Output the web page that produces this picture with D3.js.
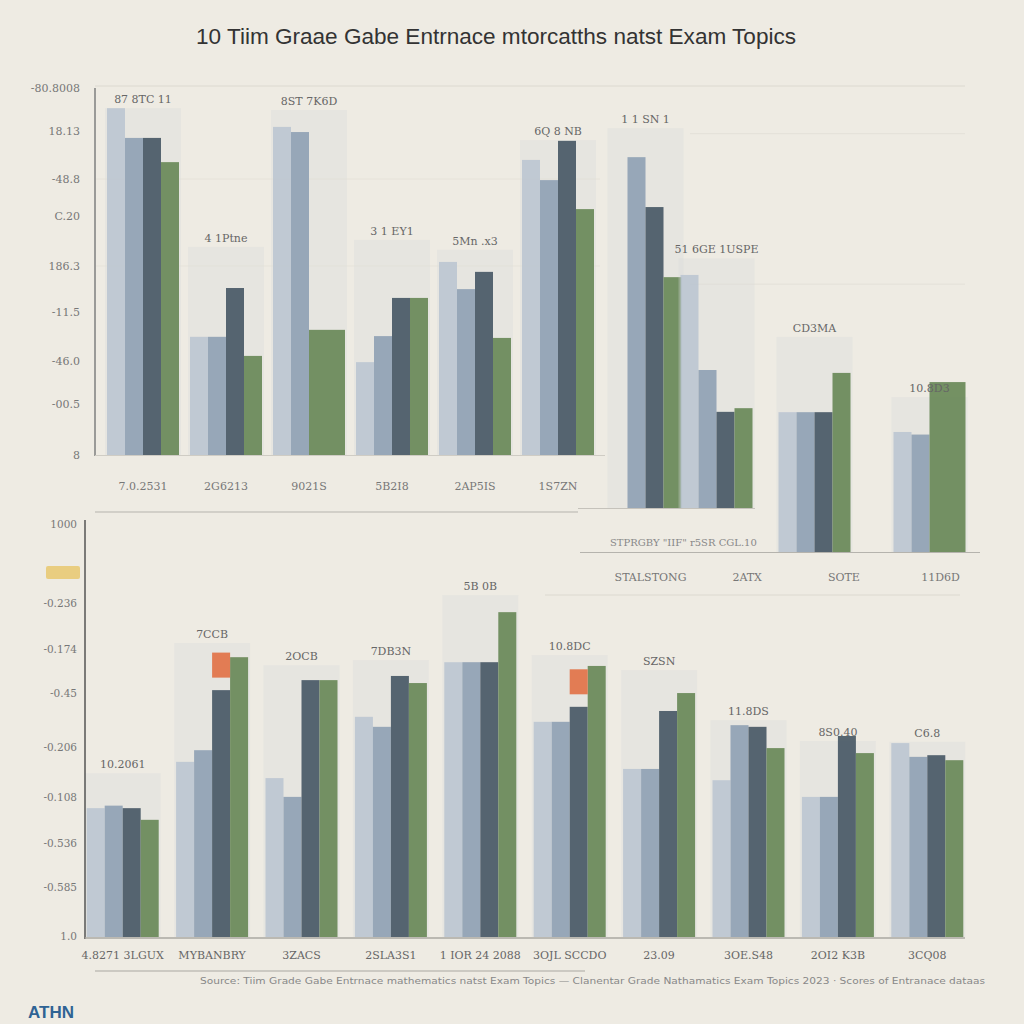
<!DOCTYPE html>
<html><head><meta charset="utf-8">
<script src="https://cdn.jsdelivr.net/npm/d3@7"></script>
<style>body{margin:0;background:#eeebe3}svg{display:block}</style></head>
<body><svg id="c" width="1024" height="1024"></svg>
<script>
// ---------- DATA ----------
const title = "10 Tiim Graae Gabe Entrnace mtorcatths natst Exam Topics";
const topCats = ["7.0.2531","2G6213","9021S","5B2I8","2AP5IS","1S7ZN","STALSTONG","2ATX","SOTE","11D6D"];
const topA  = [94.5, 32.2, 89.4, 25.3, 52.6, 80.4,  0.0, 63.5, 38.1, 32.7];
const topB  = [86.4, 32.2, 88.0, 32.4, 45.2, 74.9, 95.6, 37.6, 38.1, 32.0];
const topC  = [86.4, 45.5,  0.0, 42.8, 49.9, 85.6, 82.0, 26.2, 38.1,  0.0];
const topD  = [79.8, 27.0, 34.1, 42.8, 31.9, 67.0, 62.9, 27.2, 48.8, 46.3];
const topBg = [94.5, 56.7, 94.0, 58.6, 55.9, 85.8, 103.5, 68.0, 58.6, 42.2];
const topLabels = ["87 8TC 11","4 1Ptne","8ST 7K6D","3 1 EY1","5Mn .x3","6Q 8 NB","1 1 SN 1","51 6GE 1USPE","CD3MA","10.8D3"];
const topTickVals = [100, 88.3, 75.2, 65.1, 51.5, 39.0, 25.6, 13.9, 0];
const topTickText = ["-80.8008","18.13","-48.8","C.20","186.3","-11.5","-46.0","-00.5","8"];

const botCats = ["4.8271 3LGUX","MYBANBRY","3ZACS","2SLA3S1","1 IOR 24 2088","3OJL SCCDO","23.09","3OE.S48","2OI2 K3B","3CQ08"];
const botA  = [30.9, 42.0, 38.1, 52.8, 65.9, 51.6, 40.3, 37.6, 33.6, 46.5];
const botB  = [31.5, 44.8, 33.6, 50.4, 65.9, 51.6, 40.3, 50.8, 33.6, 43.2];
const botC  = [30.9, 59.2, 61.6, 62.6, 65.9, 55.2, 54.2, 50.4, 48.2, 43.6];
const botD  = [28.1, 67.1, 61.6, 60.9, 77.9, 65.0, 58.5, 45.3, 44.1, 42.4];
const botBg = [39.3, 70.5, 65.2, 66.4, 82.0, 67.6, 64.0, 52.0, 47.0, 46.8];
const botAccent = [0, 6.0, 0, 0, 0, 6.0, 0, 0, 0, 0];
const botLabels = ["10.2061","7CCB","2OCB","7DB3N","5B 0B","10.8DC","SZSN","11.8DS","8S0.40","C6.8"];
const botTickVals = [99, 87.3, 80.1, 69.1, 58.5, 45.6, 33.6, 22.5, 12.0, 0.2];
const botTickText = ["1000","","-0.236","-0.174","-0.45","-0.206","-0.108","-0.536","-0.585","1.0"];
const footerText = "Source: Tiim Grade Gabe Entrnace mathematics natst Exam Topics — Clanentar Grade Nathamatics Exam Topics 2023 · Scores of Entranace dataas";

// ---------- STYLE ----------
const colA = "#b7c2cf", colB = "#94a4b6", colC = "#4f5f6b", colD = "#6e8c5e", colBg = "rgba(214,217,218,0.32)";
const svg = d3.select("#c");
svg.append("rect").attr("width",1024).attr("height",1024).attr("fill","#eeebe3");

svg.append("text").attr("x",496).attr("y",44).attr("text-anchor","middle")
  .attr("font-family","Liberation Sans, Arial, sans-serif").attr("font-size",22).attr("fill","#333")
  .attr("textLength",600).attr("lengthAdjust","spacingAndGlyphs").text(title);

const series = [topA, topB, topC, topD];
const colors = [colA, colB, colC, colD];
const bw = 18;

function drawGroups(g, idxs, cats, xs, y, vals, bg, labels, accent){
  idxs.forEach(i=>{
    const cx = xs(cats[i]) + xs.bandwidth()/2;
    const base = y(0);
    g.append("rect").attr("x",cx-2*bw-2).attr("width",4*bw+4)
      .attr("y",y(bg[i])).attr("height",base-y(bg[i])).attr("fill",colBg);
    vals.forEach((s,k)=>{
      if(!s[i]) return;
      let x = cx-2*bw+k*bw, w = bw;
      if(k===3 && !vals[2][i]) { x -= bw; w = 2*bw; }
      g.append("rect").attr("x",x).attr("width",w).attr("y",y(s[i]))
        .attr("height",base-y(s[i])).attr("fill",colors[k]).attr("opacity",k===0?0.8:0.96);
    });
    if(accent && accent[i]){
      const x = cx-2*bw+2*bw;
      g.append("rect").attr("x",x).attr("width",bw).attr("y",y(vals[2][i]+accent[i]+3))
        .attr("height",y(vals[2][i]+3)-y(vals[2][i]+accent[i]+3)).attr("fill","#e06a3b").attr("opacity",0.85);
    }
    g.append("text").attr("x",cx).attr("y",y(bg[i])-5).attr("text-anchor","middle")
      .attr("font-family","DejaVu Serif, serif").attr("font-size",11).attr("fill","#666").text(labels[i]);
  });
}

// ---------- TOP PANELS ----------
const topLeftIdx = [0,1,2,3,4,5];
const xTL = d3.scaleBand().domain(topLeftIdx.map(i=>topCats[i])).range([101.5,599.5]).padding(0);
const yTL = d3.scaleLinear().domain([0,100]).range([455,88]);
const xTR1 = d3.scaleBand().domain([topCats[6],topCats[7]]).range([610,752]);
const yTR1 = d3.scaleLinear().domain([0,100]).range([508,141]);
const xTR2 = d3.scaleBand().domain([topCats[8],topCats[9]]).range([757,987]);
const yTR2 = d3.scaleLinear().domain([0,100]).range([552,185]);

const grid = svg.append("g");
grid.append("line").attr("x1",95).attr("x2",965).attr("y1",yTL(100)-2).attr("y2",yTL(100)-2).attr("stroke","#dcd9d0");
[yTR1(102), yTR1(61)].forEach(yy=>grid.append("line").attr("x1",690).attr("x2",965).attr("y1",yy).attr("y2",yy).attr("stroke","#e3e0d8"));
[yTL(75.2), yTL(51.5)].forEach(yy=>grid.append("line").attr("x1",95).attr("x2",600).attr("y1",yy).attr("y2",yy).attr("stroke","#e6e3da"));

const gT = svg.append("g");
drawGroups(gT, topLeftIdx, topCats, xTL, yTL, series, topBg, topLabels);
drawGroups(gT, [6,7], topCats, xTR1, yTR1, series, topBg, topLabels);
drawGroups(gT, [8,9], topCats, xTR2, yTR2, series, topBg, topLabels);

const axTL = svg.append("g").attr("transform","translate(95,0)")
  .call(d3.axisLeft(yTL).tickValues(topTickVals).tickSize(0).tickPadding(15).tickFormat((d,i)=>topTickText[i]));
axTL.select(".domain").remove();
axTL.selectAll("text").attr("font-family","DejaVu Serif, serif").attr("font-size",11).attr("fill","#777");
svg.append("line").attr("x1",95).attr("x2",95).attr("y1",88).attr("y2",456).attr("stroke","#9a9a98").attr("stroke-width",2);
svg.append("line").attr("x1",95).attr("x2",605).attr("y1",455.5).attr("y2",455.5).attr("stroke","#cfccc4");
svg.append("line").attr("x1",95).attr("x2",578).attr("y1",512).attr("y2",512).attr("stroke","#b5b3ad");
svg.append("line").attr("x1",578).attr("x2",755).attr("y1",508.5).attr("y2",508.5).attr("stroke","#c5c2bb");
svg.append("line").attr("x1",580).attr("x2",980).attr("y1",552.5).attr("y2",552.5).attr("stroke","#b5b3ad");

const xlT = svg.append("g").attr("transform","translate(0,479)")
  .call(d3.axisBottom(xTL).tickSize(0));
xlT.select(".domain").remove();
xlT.selectAll("text").attr("font-family","DejaVu Serif, serif").attr("font-size",11).attr("fill","#777");
const xR = d3.scalePoint().domain(topCats.slice(6)).range([650,940]);
const xlR = svg.append("g").attr("transform","translate(0,570)").call(d3.axisBottom(xR).tickSize(0));
xlR.select(".domain").remove();
xlR.selectAll("text").attr("font-family","DejaVu Serif, serif").attr("font-size",11).attr("fill","#777");
svg.append("text").attr("x",610).attr("y",546).attr("font-family","DejaVu Serif, serif").attr("font-size",10)
  .attr("fill","#888").text("STPRGBY \"IIF\" r5SR CGL.10");

// ---------- BOTTOM PANEL ----------
const xB = d3.scaleBand().domain(botCats).range([78,972]).padding(0);
const yB = d3.scaleLinear().domain([0,100]).range([937,520]);
svg.append("line").attr("x1",545).attr("x2",960).attr("y1",595).attr("y2",595).attr("stroke","#dcd9d0");
const gB = svg.append("g");
drawGroups(gB, d3.range(10), botCats, xB, yB, [botA,botB,botC,botD], botBg, botLabels, botAccent);

const axB = svg.append("g").attr("transform","translate(85,0)")
  .call(d3.axisLeft(yB).tickValues(botTickVals).tickSize(0).tickPadding(8).tickFormat((d,i)=>botTickText[i]));
axB.select(".domain").remove();
axB.selectAll("text").attr("font-family","DejaVu Serif, serif").attr("font-size",10.5).attr("fill","#777");
svg.append("rect").attr("x",46).attr("y",yB(87.3)-7).attr("width",34).attr("height",13).attr("rx",2).attr("fill","#e7c86e").attr("opacity",0.85);
svg.append("line").attr("x1",85).attr("x2",85).attr("y1",520).attr("y2",939).attr("stroke","#555").attr("stroke-width",1.5);
svg.append("line").attr("x1",85).attr("x2",965).attr("y1",938).attr("y2",938).attr("stroke","#aaa8a2").attr("stroke-width",1.5);

const xlB = svg.append("g").attr("transform","translate(0,948)").call(d3.axisBottom(xB).tickSize(0));
xlB.select(".domain").remove();
xlB.selectAll("text").attr("font-family","DejaVu Serif, serif").attr("font-size",11).attr("fill","#666");

// footer
svg.append("line").attr("x1",95).attr("x2",585).attr("y1",971).attr("y2",971).attr("stroke","#a9a7a1");
svg.append("text").attr("x",200).attr("y",984).attr("font-family","DejaVu Sans, sans-serif").attr("font-size",8)
  .attr("fill","#888").attr("textLength",785).attr("lengthAdjust","spacingAndGlyphs").text(footerText);
svg.append("text").attr("x",28).attr("y",1018).attr("font-family","Liberation Sans, Arial, sans-serif")
  .attr("font-size",17).attr("font-weight","bold").attr("fill","#2f6394").text("ATHN");
</script></body></html>
